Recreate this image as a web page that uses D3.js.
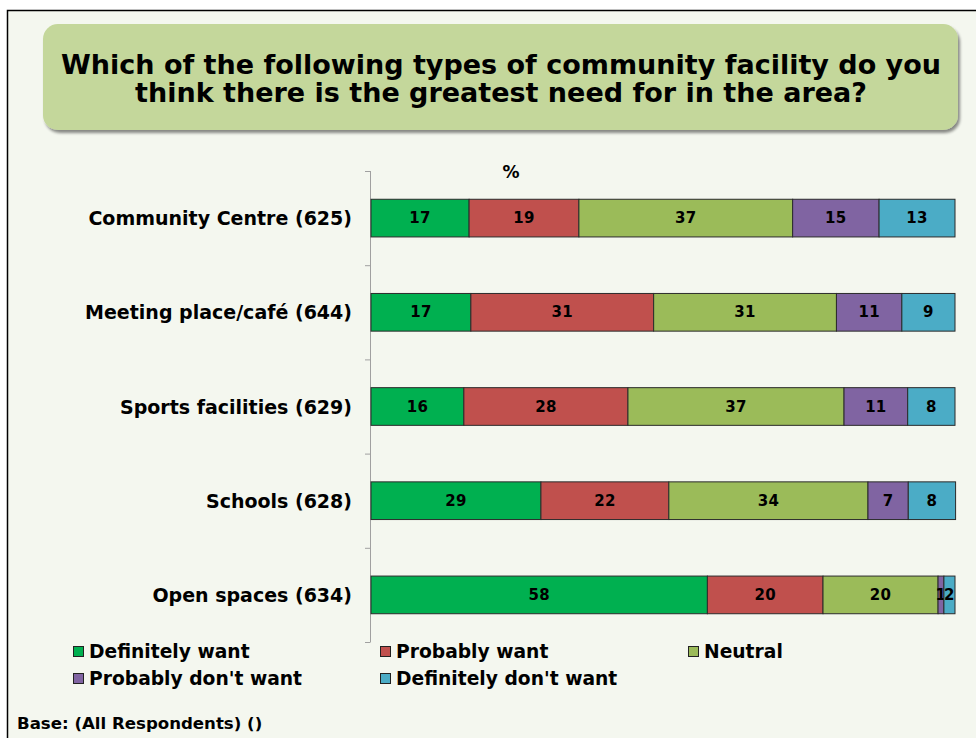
<!DOCTYPE html>
<html>
<head>
<meta charset="utf-8">
<script src="https://cdn.jsdelivr.net/npm/d3@7"></script>
<style>
  html, body { margin: 0; padding: 0; background: #ffffff; }
  svg { display: block; }
  text { font-family: "DejaVu Sans", Verdana, sans-serif; font-weight: bold; fill: #000; }
</style>
</head>
<body>
<svg id="chart" width="976" height="738"></svg>
<script>
// Survey: preferred community facilities, % of respondents per answer
const titleLines = [
  "Which of the following types of community facility do you",
  "think there is the greatest need for in the area?"
];
const categories = [
  "Community Centre (625)",
  "Meeting place/café (644)",
  "Sports facilities (629)",
  "Schools (628)",
  "Open spaces (634)"
];
const seriesNames = [
  "Definitely want",
  "Probably want",
  "Neutral",
  "Probably don't want",
  "Definitely don't want"
];
const seriesColors = ["#00b050", "#c0504d", "#9bbb59", "#8064a2", "#4bacc6"];
const definitelyWant   = [16.8, 17.1, 15.9, 29.1, 57.6];
const probablyWant     = [18.8, 31.3, 28.1, 21.9, 19.8];
const neutral          = [36.6, 31.3, 37.0, 34.1, 19.7];
const probablyDont     = [14.8, 11.2, 10.9, 6.9, 1.0];
const definitelyDont   = [13.0, 9.1, 8.1, 8.1, 1.9];
const axisLabel = "%";
const baseNote = "Base: (All Respondents) ()";

const seriesValues = [definitelyWant, probablyWant, neutral, probablyDont, definitelyDont];

const rows = categories.map((c, i) => {
  const r = { category: c };
  seriesNames.forEach((s, j) => { r[s] = seriesValues[j][i]; });
  return r;
});
const stacked = d3.stack().keys(seriesNames)(rows);

const svg = d3.select("#chart");

// Panel background with frame
svg.append("rect")
  .attr("x", 7.5).attr("y", 10.5)
  .attr("width", 1000).attr("height", 1000)
  .attr("fill", "#f4f7ef")
  .attr("stroke", "#000").attr("stroke-width", 1.5);

// Title banner with soft shadow
const defs = svg.append("defs");
const shadow = defs.append("filter").attr("id", "shadow")
  .attr("x", "-5%").attr("y", "-10%").attr("width", "110%").attr("height", "130%");
shadow.append("feGaussianBlur").attr("in", "SourceAlpha").attr("stdDeviation", 1.6);
shadow.append("feOffset").attr("dx", 1.5).attr("dy", 3).attr("result", "off");
shadow.append("feComponentTransfer").append("feFuncA").attr("type", "linear").attr("slope", 0.45);
const merge = shadow.append("feMerge");
merge.append("feMergeNode");
merge.append("feMergeNode").attr("in", "SourceGraphic");

svg.append("rect")
  .attr("x", 43).attr("y", 24)
  .attr("width", 915).attr("height", 106)
  .attr("rx", 15).attr("ry", 15)
  .attr("fill", "#c4d79b")
  .attr("filter", "url(#shadow)");

svg.append("g").selectAll("text")
  .data(titleLines)
  .join("text")
  .attr("x", 501)
  .attr("y", (d, i) => 74 + i * 28)
  .attr("text-anchor", "middle")
  .style("font-size", "27px")
  .text(d => d);

// Scales
const x = d3.scaleLinear().domain([0, 100]).range([371, 955]);
const y = d3.scaleBand().domain(categories).range([171, 642])
  .paddingInner(0.6).paddingOuter(0.3);

// Category axis: line with ticks at band boundaries
const axisG = svg.append("g");
axisG.append("line")
  .attr("x1", 370.5).attr("x2", 370.5)
  .attr("y1", y.range()[0]).attr("y2", y.range()[1])
  .attr("stroke", "#a0a0a0").attr("stroke-width", 1);
const step = y.step();
axisG.selectAll("line.tick")
  .data(d3.range(categories.length + 1))
  .join("line")
  .attr("class", "tick")
  .attr("x1", 365).attr("x2", 370.5)
  .attr("y1", i => y.range()[0] + i * step + 0.5)
  .attr("y2", i => y.range()[0] + i * step + 0.5)
  .attr("stroke", "#a0a0a0").attr("stroke-width", 1);

svg.append("g").selectAll("text")
  .data(categories)
  .join("text")
  .attr("x", 352)
  .attr("y", d => y(d) + y.bandwidth() / 2 + 7)
  .attr("text-anchor", "end")
  .style("font-size", "19px")
  .text(d => d);

svg.append("text")
  .attr("x", 511).attr("y", 178)
  .attr("text-anchor", "middle")
  .style("font-size", "17px")
  .text(axisLabel);

// Stacked bars
const layers = svg.append("g").selectAll("g")
  .data(stacked)
  .join("g")
  .attr("fill", (d, i) => seriesColors[i]);

layers.selectAll("rect")
  .data(d => d)
  .join("rect")
  .attr("x", d => x(d[0]))
  .attr("y", d => y(d.data.category))
  .attr("width", d => x(d[1]) - x(d[0]))
  .attr("height", y.bandwidth())
  .attr("stroke", "#2b2b2b").attr("stroke-width", 1);

layers.selectAll("text")
  .data(d => d)
  .join("text")
  .attr("x", d => (x(d[0]) + x(d[1])) / 2)
  .attr("y", d => y(d.data.category) + y.bandwidth() / 2 + 5)
  .attr("text-anchor", "middle")
  .style("font-size", "15px")
  .style("letter-spacing", "0.3px")
  .text(d => d3.format(".0f")(d[1] - d[0]));

// Legend
const legendX = [73, 380, 688];
const legendY = [652, 679];
const legend = svg.append("g").selectAll("g")
  .data(seriesNames)
  .join("g")
  .attr("transform", (d, i) => `translate(${legendX[i % 3]},${legendY[Math.floor(i / 3)]})`);
legend.append("rect")
  .attr("x", 0.5).attr("y", -5.5)
  .attr("width", 10).attr("height", 10)
  .attr("fill", (d, i) => seriesColors[i])
  .attr("stroke", "#222").attr("stroke-width", 1);
legend.append("text")
  .attr("x", 16).attr("y", 6)
  .style("font-size", "18.7px")
  .text(d => d);

svg.append("text")
  .attr("x", 17).attr("y", 729)
  .style("font-size", "16.6px")
  .text(baseNote);
</script>
</body>
</html>
